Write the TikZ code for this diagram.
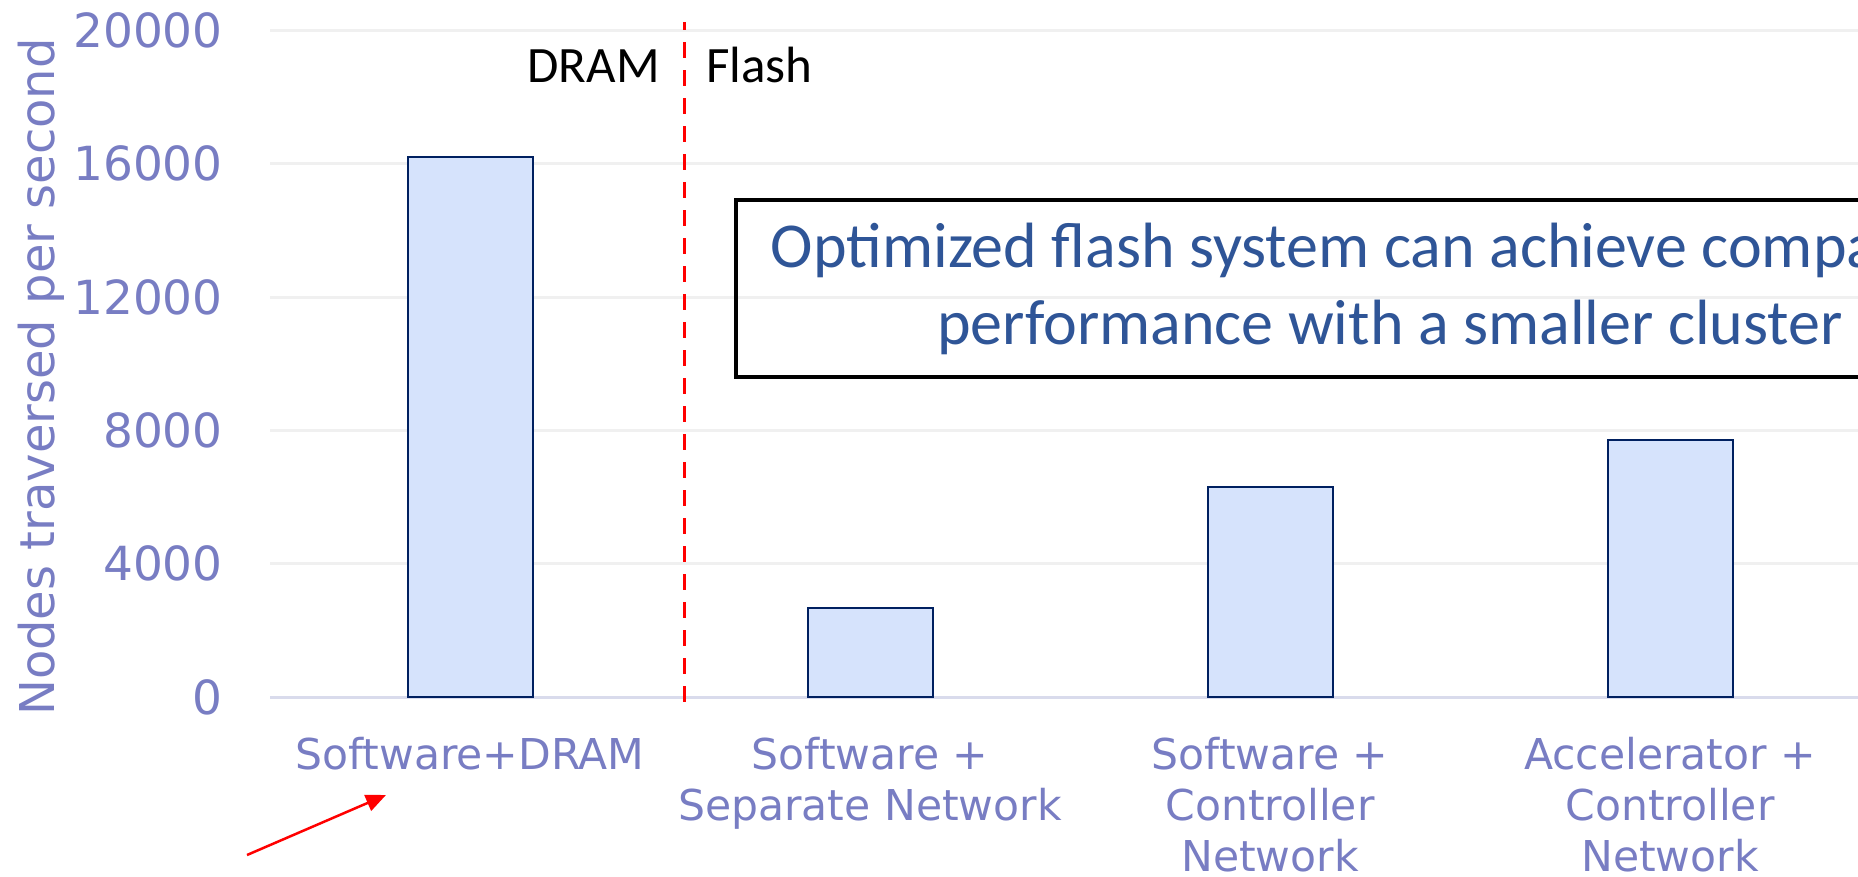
\documentclass[tikz,border=0pt]{standalone}
\usepackage{fontspec}
\setmainfont{DejaVu Sans}
\newfontfamily\axisfont{DejaVu Sans}
\newfontfamily\notefont{Carlito}
\usetikzlibrary{arrows.meta}
\definecolor{axistext}{RGB}{120,125,195}
\definecolor{gridgray}{RGB}{240,240,240}
\definecolor{baseaxis}{RGB}{217,219,236}
\definecolor{barfill}{RGB}{214,227,252}
\definecolor{barline}{RGB}{0,32,96}
\definecolor{notetext}{RGB}{47,85,151}
\tikzset{
  gridline/.style={draw=gridgray, line width=3pt},
  barbox/.style={draw=barline, fill=barfill, line width=2pt},
  ticklabel/.style={anchor=east, inner sep=0pt, text=axistext, font=\axisfont\fontsize{47}{56}\selectfont},
  catlabel/.style={anchor=base, inner sep=0pt, align=center, text=axistext, font=\axisfont\fontsize{42.5}{51}\selectfont},
  memlabel/.style={inner sep=0pt, text=black, font=\notefont\fontsize{51}{60}\selectfont},
  notebox/.style={draw=black, line width=4pt, minimum width=1308pt, minimum height=177pt, align=center, text=notetext, font=\notefont\fontsize{64}{77}\selectfont},
  divider/.style={draw=red, line width=3pt, dash pattern=on 16pt off 12pt, dash phase=8pt},
  pointer/.style={draw=red, line width=2.5pt, -{Triangle[length=20pt,width=17pt]}}
}
\begin{document}
\begin{tikzpicture}[x=1pt, y=-1pt]
\useasboundingbox (0,0) rectangle (1858,876);
\clip (0,0) rectangle (1858,876);
\fill[white] (0,0) rectangle (1858,876);

% horizontal grid and tick labels (one step of 4000 = 133.33 units)
\foreach \k/\lbl in {1/4000, 2/8000, 3/12000, 4/16000, 5/20000} {
  \draw[gridline] (270,{697-133.333*\k}) -- (1858,{697-133.333*\k});
  \node[ticklabel] (t\k) at (223,{697-133.333*\k}) {\lbl};
}
\draw[draw=baseaxis, line width=3pt] (270,697) -- (1858,697);
\node[ticklabel] (t0) at (223,697) {0};

% axis title
\node[rotate=90, inner sep=0pt, text=axistext, font=\axisfont\fontsize{48}{56}\selectfont] (ytitle) at (41,377) {Nodes traversed per second};

% bars (heights in units: value/30)
\foreach \c/\h in {470/540, 870/89.3, 1270/210, 1670/256.7} {
  \draw[barbox] ({\c-62.5},697) rectangle ({\c+62.5},{697-\h});
}

% DRAM / Flash divider
\coordinate (divtop) at (684,22);
\coordinate (divbot) at (684,702);
\draw[divider] (divtop) -- (divbot);
\node[memlabel, anchor=base east] (dram) at (660,82) {DRAM};
\node[memlabel, anchor=base west] (flash) at (706,82) {Flash};

% annotation box
\node[notebox] (note) at (1390,288.5) {Optimized flash system can achieve comparable\\performance with a smaller cluster};

% category labels (anchored at the baseline of the last line)
\node[catlabel] (c1) at (470,769) {Software+DRAM};
\node[catlabel] (c2) at (870,820) {Software +\\Separate Network};
\node[catlabel] (c3) at (1270,871) {Software +\\Controller\\Network};
\node[catlabel] (c4) at (1670,871) {Accelerator +\\Controller\\Network};

% pointer arrow
\coordinate (arrtail) at (247,855);
\coordinate (arrtip) at (386,795);
\draw[pointer] (arrtail) -- (arrtip);
\end{tikzpicture}
\end{document}
